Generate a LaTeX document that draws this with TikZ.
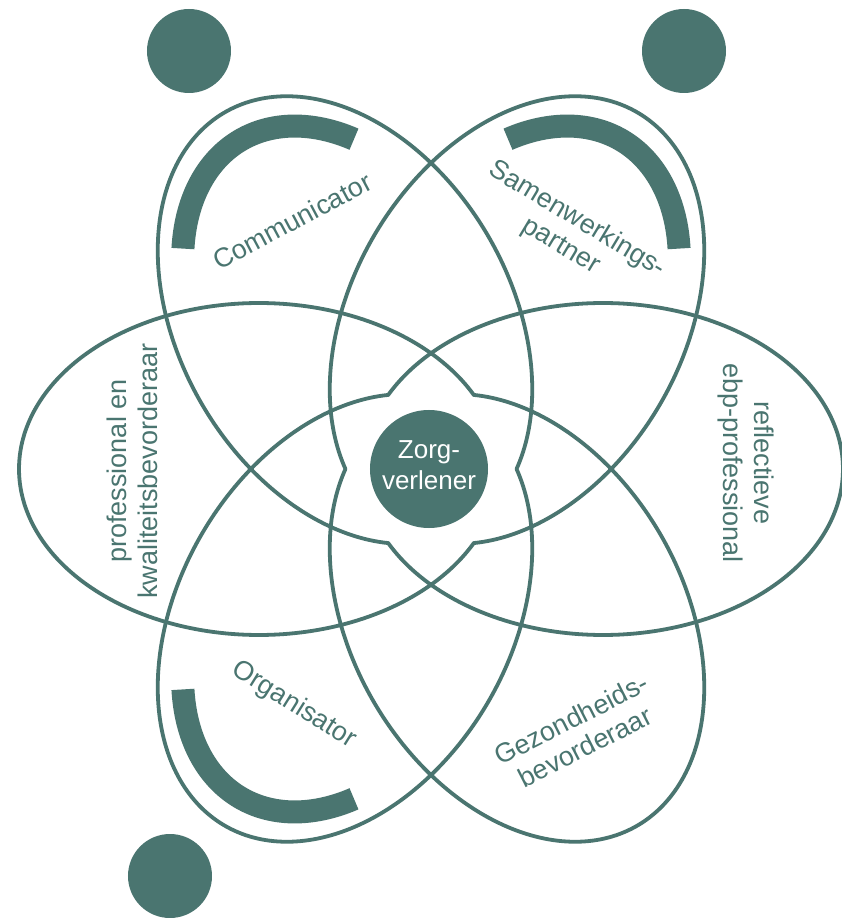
\documentclass[tikz,border=0pt]{standalone}
\usepackage{fontspec}
\setmainfont{Liberation Sans}
\definecolor{teal1}{HTML}{4A7570}
\newcommand\lobeplot[1]{plot[domain=153.4:-153.4, samples=220, variable=\t] ({(172+240*cos(\t))*cos(#1)-166*sin(\t)*sin(#1)},{(172+240*cos(\t))*sin(#1)+166*sin(\t)*cos(#1)})}
\newcommand\lobeplotc[1]{-- plot[domain=153.4:-153.4, samples=220, variable=\t] ({(172+240*cos(\t))*cos(#1)-166*sin(\t)*sin(#1)},{(172+240*cos(\t))*sin(#1)+166*sin(\t)*cos(#1)})}
\newcommand\bodyplot[3]{plot[domain=#2:#3, samples=120, variable=\t] ({(172+208*cos(\t))*cos(#1)-144*sin(\t)*sin(#1)},{(172+208*cos(\t))*sin(#1)+144*sin(\t)*cos(#1)})}
\tikzset{
  lobe/.style={draw=teal1, line width=3.8pt},
  bodyarc/.style={draw=teal1, line width=23pt, line cap=butt},
  head/.style={circle, fill=teal1, minimum size=84pt, inner sep=0pt},
  core/.style={circle, fill=teal1, minimum size=118pt, inner sep=0pt},
  lbl/.style={text=teal1, font=\fontsize{27}{31}\selectfont, align=center, inner sep=0pt},
  ctext/.style={text=white, font=\fontsize{26}{31}\selectfont, align=center, inner sep=0pt},
}
\begin{document}
\begin{tikzpicture}[x=1pt, y=1pt]
\fill[white] (-431,-449) rectangle (411,469);
\useasboundingbox (-431,-449) rectangle (411,469);
% rosette outlines
\draw[lobe] \lobeplot{300} \lobeplotc{60} \lobeplotc{180} -- cycle;
\draw[lobe] \lobeplot{0} \lobeplotc{120} \lobeplotc{240} -- cycle;
% bodies
\draw[bodyarc] \bodyplot{120}{46.6}{-43};
\draw[bodyarc] \bodyplot{60}{43}{-46.6};
\draw[bodyarc] \bodyplot{240}{43}{-46.6};
% heads
\node[head] (h1) at (-242,418) {};
\node[head] (h2) at (253,418) {};
\node[head] (h3) at (-261,-407) {};
% centre
\node[core] (zorg) at (-2,0) {};
\node[ctext] (zt) at ([yshift=4pt]zorg.center) {Zorg-\\verlener};
% labels
\node[lbl, rotate=28] (l1) at (-139,248) {Communicator};
\node[lbl, rotate=-31] (l2) at (138,236) {Samenwerkings-\\partner};
\node[lbl, rotate=90] (l3) at (-299,-2) {professional en\\kwaliteitsbevorderaar};
\node[lbl, rotate=-90] (l4) at (315,6) {reflectieve\\ebp-professional};
\node[lbl, rotate=-32] (l5) at (-137,-236) {Organisator};
\node[lbl, rotate=27] (l6) at (147,-264) {Gezondheids-\\bevorderaar};
\end{tikzpicture}
\end{document}
